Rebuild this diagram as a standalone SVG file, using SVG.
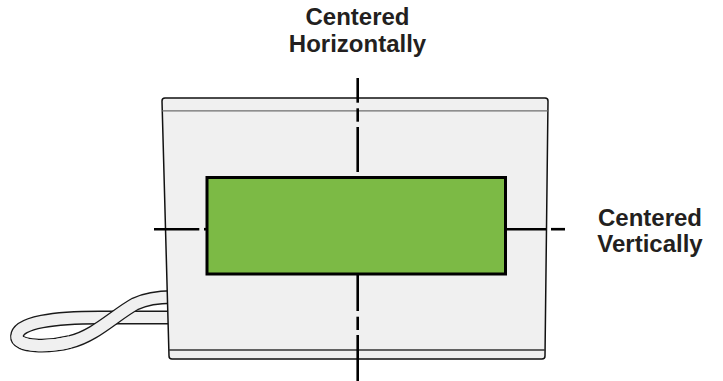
<svg xmlns="http://www.w3.org/2000/svg" width="723" height="381" viewBox="0 0 723 381">
<style>
.lbl{font-family:"Liberation Sans",Arial,sans-serif;font-weight:bold;font-size:24px;fill:#231f20;text-anchor:middle}
.guide{stroke:#000;stroke-width:2.6;fill:none}
.tubeO{fill:none;stroke:#1a1a1a;stroke-width:13.8}
.tubeI{fill:none;stroke:#f0f0f0;stroke-width:11.2}
</style>
<rect width="723" height="381" fill="#fff"/>
<g id="cable">
<path class="tubeO" d="M172,317.5 L100,317.5 C55,317.5 18,322 17,336 C16,348 50,347 70,342"/>
<path class="tubeI" d="M172,317.5 L100,317.5 C55,317.5 18,322 17,336 C16,348 50,347 70,342"/>
<path class="tubeO" d="M70,342 C95,336 115,315 135,304 C148,298 160,297 172,297"/>
<path class="tubeI" d="M17,336 C16,348 50,347 70,342 C95,336 115,315 135,304 C148,298 160,297 172,297"/>
</g>
<g id="enclosure">
<path d="M162,101 Q162,98 165,98 L545,98 Q548,98 548,101 L545,356 Q545,359 542,359 L172,359 Q169,359 169,356 Q166,250 162,101 Z" fill="#f0f0f0" stroke="#111" stroke-width="1.5"/>
<line x1="162.2" y1="110.8" x2="547.8" y2="110.8" stroke="#6e6e6e" stroke-width="1.3"/>
<line x1="168.6" y1="350" x2="545.4" y2="350" stroke="#333" stroke-width="1.3"/>
</g>
<g id="display">
<rect x="207" y="177.5" width="298.5" height="96.5" fill="#7cba45" stroke="#000" stroke-width="3"/>
</g>
<g id="connectors">
<line class="guide" x1="357.7" y1="78" x2="357.7" y2="102.7"/>
<line class="guide" x1="357.7" y1="108.3" x2="357.7" y2="121.7"/>
<line class="guide" x1="357.7" y1="127" x2="357.7" y2="172"/>
<line class="guide" x1="357.7" y1="275" x2="357.7" y2="311"/>
<line class="guide" x1="357.7" y1="316.7" x2="357.7" y2="330"/>
<line class="guide" x1="357.7" y1="335" x2="357.7" y2="381"/>
<line class="guide" x1="154" y1="229.2" x2="199.3" y2="229.2"/>
<line class="guide" x1="204" y1="229.2" x2="207" y2="229.2"/>
<line class="guide" x1="506" y1="229.2" x2="546" y2="229.2"/>
<line class="guide" x1="551" y1="229.2" x2="565" y2="229.2"/>
</g>
<g id="label-horizontal">
<text class="lbl" x="357.5" y="25">Centered</text>
<text class="lbl" x="357.5" y="52">Horizontally</text>
</g>
<g id="label-vertical">
<text class="lbl" x="650" y="225.7">Centered</text>
<text class="lbl" x="650" y="252.3">Vertically</text>
</g>
</svg>
